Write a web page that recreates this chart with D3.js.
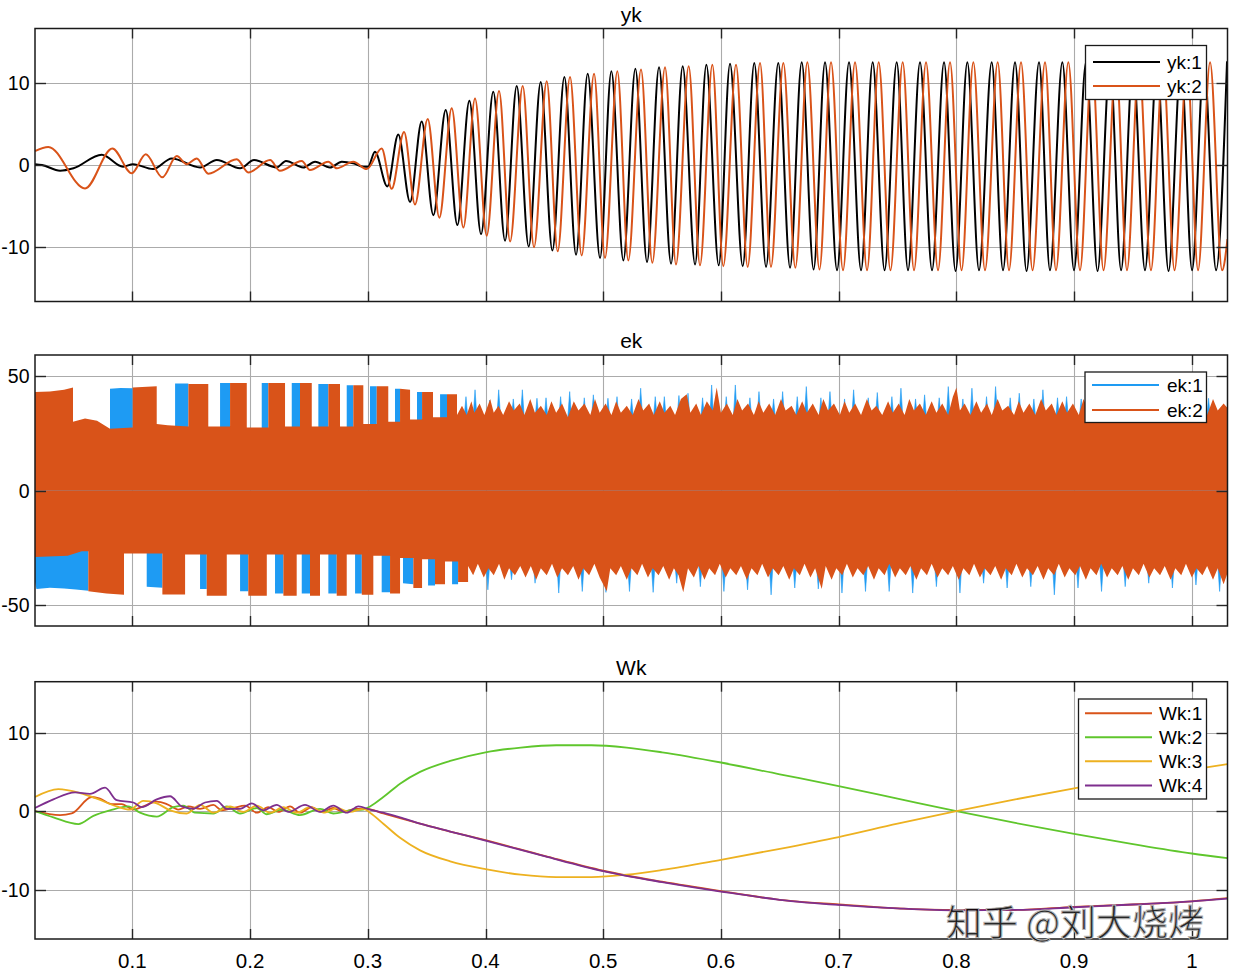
<!DOCTYPE html>
<html><head><meta charset="utf-8">
<script src="https://cdn.jsdelivr.net/npm/d3@7"></script>
<style>
body{margin:0;background:#fff}
text{font-family:"Liberation Sans",Arial,sans-serif;fill:#000}
</style>
</head><body>
<svg id="chart" width="1247" height="975"></svg>
<script>
// ---------------- DATA ----------------
const xDomain = [0.0173, 1.0303];
const xTickValues = [0.1,0.2,0.3,0.4,0.5,0.6,0.7,0.8,0.9,1];
const xTickLabels = ["0.1","0.2","0.3","0.4","0.5","0.6","0.7","0.8","0.9","1"];
const ykTicks = [-10,0,10];
const ekTicks = [-50,0,50];
const wkTicks = [-10,0,10];
const ykTickLabels = ["-10","0","10"];
const ekTickLabels = ["-50","0","50"];
const wkTickLabels = ["-10","0","10"];

// yk: extrema of the two outputs [t, value]
const yk1 = [
[0.0173,0.1],[0.0233,0.0],[0.0386,-0.7],[0.0500,-0.4],[0.0740,1.25],[0.0921,-0.2],[0.1006,0.1],[0.1176,-0.5],[0.1335,0.8],[0.1575,-0.3],[0.1717,0.6],[0.1915,-0.4],[0.2034,0.6],[0.2226,-0.3],[0.2305,0.5],[0.2452,-0.3],[0.2552,0.4],[0.2679,-0.3],[0.2779,0.4],[0.2877,0.2],[0.2962,-0.2],[0.3002,-0.2],
[0.3061,1.6],[0.3166,-2.6],[0.3259,3.7],[0.3359,-4.5],[0.3458,5.3],[0.3557,-6.1],[0.3662,6.7],[0.3761,-7.3],[0.3863,7.8],[0.3962,-8.4],[0.4066,8.9],[0.4166,-9.2],[0.4265,9.6],[0.4367,-9.9],[0.4469,10.1],[0.4568,-10.4],[0.4670,10.7],[0.4769,-10.9],[0.4868,11.1],[0.4973,-11.3],[0.5069,11.4],[0.5171,-11.6],[0.5273,11.7],[0.5372,-11.8],[0.5474,11.9],[0.5576,-12.0],[0.5675,12.0],[0.5780,-12.1],[0.5876,12.2],[0.5981,-12.2],[0.6077,12.3],[0.6185,-12.3],[0.6283,12.4],[0.6383,-12.4],[0.6487,12.4],[0.6587,-12.5],[0.6686,12.5],
[0.6787,-12.7],[0.6884,12.5],[0.6986,-12.8],[0.7088,12.5],[0.7190,-12.8],[0.7289,12.5],[0.7390,-12.8],[0.7493,12.5],[0.7589,-12.8],[0.7691,12.5],[0.7793,-12.8],[0.7895,12.5],[0.7993,-12.9],[0.8093,12.5],[0.8192,-12.8],[0.8300,12.5],[0.8396,-12.8],[0.8498,12.5],[0.8596,-12.9],[0.8702,12.5],[0.8795,-12.8],[0.8900,12.5],[0.8999,-12.8],[0.9101,12.5],[0.9199,-12.9],[0.9305,12.5],[0.9399,-12.8],[0.9500,12.5],[0.9602,-12.8],[0.9704,12.5],[0.9802,-12.9],[0.9908,12.5],[1.0002,-12.8],[1.0103,12.5],[1.0206,-12.8],[1.0299,12.6]
];
const yk2 = [
[0.0173,1.7],[0.0286,2.2],[0.0598,-2.85],[0.0830,2.0],[0.0995,-1.0],[0.1114,1.3],[0.1255,-1.5],[0.1377,1.1],[0.1462,0.1],[0.1547,0.8],[0.1645,-1.05],[0.1887,0.7],[0.1985,-0.9],[0.2170,0.6],[0.2254,-0.7],[0.2439,0.5],[0.2509,-0.6],[0.2665,0.4],[0.2736,-0.4],[0.2877,0.4],[0.2991,-0.5],
[0.3118,2.0],[0.3203,-2.9],[0.3308,4.0],[0.3401,-4.8],[0.3509,5.6],[0.3608,-6.4],[0.3713,6.9],[0.3812,-7.6],[0.3911,8.1],[0.4010,-8.6],[0.4115,9.0],[0.4209,-9.3],[0.4316,9.6],[0.4412,-10.0],[0.4520,10.2],[0.4613,-10.5],[0.4718,10.7],[0.4817,-11.0],[0.4922,11.1],[0.5015,-11.3],[0.5120,11.4],[0.5213,-11.6],[0.5321,11.6],[0.5417,-11.9],[0.5525,11.9],[0.5618,-12.1],[0.5726,12.0],[0.5822,-12.2],[0.5927,12.2],[0.6020,-12.3],[0.6128,12.2],[0.6227,-12.4],[0.6332,12.4],[0.6425,-12.4],[0.6530,12.4],[0.6632,-12.5],[0.6734,12.5],
[0.6837,-12.7],[0.6935,12.5],[0.7037,-12.8],[0.7139,12.5],[0.7241,-12.8],[0.7340,12.5],[0.7440,-12.8],[0.7544,12.5],[0.7640,-12.8],[0.7742,12.5],[0.7844,-12.8],[0.7946,12.5],[0.8044,-12.8],[0.8144,12.5],[0.8243,-12.8],[0.8351,12.5],[0.8447,-12.8],[0.8549,12.5],[0.8647,-12.8],[0.8753,12.5],[0.8846,-12.8],[0.8951,12.5],[0.9050,-12.8],[0.9152,12.5],[0.9250,-12.8],[0.9356,12.5],[0.9449,-12.8],[0.9551,12.5],[0.9653,-12.8],[0.9755,12.5],[0.9853,-12.8],[0.9959,12.5],[1.0053,-12.8],[1.0155,12.5],[1.0257,-12.8],[1.0303,-9.0]
];

// ek: envelopes of the dense oscillation [t, value]
const ek1Top = [
[0.0173,26],[0.0810,26],[0.0810,44.5],[0.0900,44.8],[0.1003,44.7],[0.1003,26],[0.1363,26],[0.1363,46.8],[0.1476,46.8],[0.1476,26],[0.1745,26],[0.1745,47],[0.1830,47],[0.1830,26],[0.2099,26],[0.2099,47],[0.2155,47],[0.2155,26],[0.2354,26],[0.2354,47],[0.2424,47],[0.2424,26],[0.2580,26],[0.2580,46.5],[0.2665,46.5],[0.2665,26],[0.2821,26],[0.2821,46],[0.2877,46],[0.2877,26],[0.3019,26],[0.3019,45.5],[0.3076,45.5],[0.3076,27],[0.3231,27],[0.3231,44.5],[0.3274,44.5],[0.3274,28],[0.3418,28],[0.3418,43],[0.3461,43],[0.3461,29],[0.3614,29],[0.3614,42],[0.3673,42],[0.3673,30],[1.0303,30]
];
const ek1Bot = [
[0.0173,-40],[0.0185,-43],[0.0300,-42.5],[0.0420,-42.8],[0.0520,-43.2],[0.0626,-43.8],[0.0626,-26],[0.1122,-26],[0.1122,-42],[0.1255,-42.5],[0.1255,-26],[0.1575,-26],[0.1575,-43],[0.1632,-43],[0.1632,-26],[0.1915,-26],[0.1915,-44],[0.1985,-44],[0.1985,-26],[0.2212,-26],[0.2212,-45],[0.2283,-45],[0.2283,-26],[0.2439,-26],[0.2439,-45],[0.2509,-45],[0.2509,-26],[0.2665,-26],[0.2665,-45],[0.2736,-45],[0.2736,-26],[0.2892,-26],[0.2892,-45],[0.2949,-45],[0.2949,-26],[0.3118,-26],[0.3118,-44.5],[0.3189,-44.5],[0.3189,-27],[0.3299,-27],[0.3299,-40.5],[0.3387,-41],[0.3387,-28],[0.3512,-28],[0.3512,-41.5],[0.3571,-41.5],[0.3571,-29],[0.3716,-29],[0.3716,-41],[0.3767,-41],[0.3767,-30],[1.0303,-30]
];
const ek1TopPeaks = [
[0.3834,41.0],[0.3911,44.0],[0.4035,39.5],[0.4112,44.0],[0.4236,40.0],[0.4313,44.0],[0.4437,40.3],[0.4514,40.5],[0.4638,41.0],[0.4715,43.2],[0.4839,40.5],[0.4916,41.8],[0.5040,40.3],[0.5117,41.0],[0.5241,40.0],[0.5318,44.7],[0.5442,41.0],[0.5519,41.0],[0.5643,41.5],[0.5720,42.5],[0.5844,40.5],[0.5921,46.1],[0.6045,41.0],[0.6122,46.1],[0.6246,40.5],[0.6323,43.2],[0.6447,40.0],[0.6524,43.2],[0.6648,41.0],[0.6725,45.4],[0.6849,40.5],[0.6926,43.2],[0.7050,40.0],[0.7127,44.0],[0.7251,40.5],[0.7328,42.8],[0.7452,41.0],[0.7529,44.7],[0.7653,40.0],[0.7730,41.8],[0.7854,40.5],[0.7931,45.4],[0.8055,40.0],[0.8132,44.7],[0.8256,41.0],[0.8333,45.4],[0.8457,40.5],[0.8534,42.5],[0.8658,40.0],[0.8735,44.0],[0.8859,40.5],[0.8936,41.0],[0.9060,40.0],[0.9137,42.5],[0.9261,41.0],[0.9338,43.5],[0.9462,40.0],[0.9539,42.0],[0.9663,40.5],[0.9740,44.0],[0.9864,40.0],[0.9941,43.0],[1.0065,40.5],[1.0142,40.3]
];
const ek1BotPeaks = [
[0.4020,-43.4],[0.4221,-39.0],[0.4421,-40.5],[0.4622,-44.8],[0.4822,-44.1],[0.5023,-44.5],[0.5223,-44.1],[0.5424,-44.5],[0.5624,-40.5],[0.5825,-42.0],[0.6025,-44.1],[0.6226,-43.4],[0.6426,-45.6],[0.6627,-42.6],[0.6827,-43.0],[0.7028,-44.8],[0.7228,-44.1],[0.7429,-44.1],[0.7629,-44.8],[0.7830,-42.0],[0.8030,-44.8],[0.8231,-40.5],[0.8431,-42.6],[0.8632,-42.0],[0.8832,-45.6],[0.9033,-42.6],[0.9233,-44.1],[0.9434,-42.0],[0.9634,-40.5],[0.9835,-42.6],[1.0035,-41.3],[1.0236,-44.1]
];
const ek2Top = [
[0.0173,43.0],[0.0300,43.3],[0.0420,44.0],[0.0496,45.0],[0.0496,30.0],[0.0598,31.5],[0.0700,30.5],[0.0810,27.0],[0.1003,27.5],
[0.1003,45.0],[0.1207,45.5],[0.1207,29.0],[0.1300,28.5],[0.1476,28.0],
[0.1476,46.5],[0.1645,46.5],[0.1645,28.0],[0.1830,28.0],
[0.1830,47.0],[0.1972,47.0],[0.1972,27.5],[0.2155,27.5],
[0.2155,47.0],[0.2297,47.0],[0.2297,28.0],[0.2424,28.0],
[0.2424,47.0],[0.2524,47.0],[0.2524,28.0],[0.2665,28.0],
[0.2665,46.5],[0.2764,46.5],[0.2764,28.0],[0.2877,28.0],
[0.2877,46.0],[0.2962,46.0],[0.2962,29.0],[0.3076,29.0],
[0.3076,45.5],[0.3174,45.5],[0.3174,30.0],[0.3274,30.0],
[0.3274,44.5],[0.3359,44.0],[0.3359,31.0],[0.3461,31.0],
[0.3461,43.0],[0.3554,43.0],[0.3554,32.0],[0.3673,32.0],
[0.3673,42.0],[0.3758,42.0],
[0.3758,33],[0.3800,37],[0.3840,33],[0.3880,39],[0.3905,34],[0.3950,38],[0.3990,33],[0.4040,40],[0.4070,34],[0.4110,37],[0.4150,33],[0.4200,39],[0.4240,35],[0.4290,38],[0.4330,33],[0.4380,40],[0.4420,34],[0.4470,37],[0.4520,33],[0.4560,39],[0.4600,34],[0.4650,38],[0.4700,32],[0.4750,39],[0.4790,35],[0.4840,38],[0.4890,33],[0.4930,40],[0.4970,34],[0.5020,38],[0.5070,33],[0.5110,39],[0.5150,34],[0.5200,37],[0.5250,33],[0.5300,40],[0.5340,35],[0.5390,38],[0.5430,33],[0.5480,39],[0.5520,34],[0.5570,37],[0.5610,33],[0.5660,40],[0.5709,42],[0.5740,34],[0.5790,38],[0.5830,33],[0.5880,39],[0.5930,35],[0.5964,45],[0.6000,34],[0.6050,38],[0.6100,33],[0.6140,40],[0.6180,35],[0.6230,38],[0.6280,33],[0.6320,39],[0.6360,34],[0.6410,38],[0.6460,33],[0.6510,40],[0.6550,35],[0.6600,37],[0.6640,33],[0.6690,39],[0.6730,34],[0.6780,38],[0.6830,33],[0.6870,40],[0.6910,35],[0.6960,38],[0.7010,33],[0.7050,39],[0.7090,34],[0.7140,38],[0.7190,33],[0.7240,40],[0.7280,35],[0.7320,37],[0.7370,33],[0.7420,39],[0.7460,34],[0.7510,38],[0.7560,33],[0.7600,40],[0.7640,35],[0.7690,38],[0.7740,33],[0.7790,39],[0.7830,34],[0.7880,38],[0.7930,33],[0.7970,41],[0.8000,45],[0.8030,35],[0.8070,38],[0.8120,33],[0.8170,39],[0.8210,34],[0.8260,38],[0.8300,33],[0.8350,40],[0.8390,35],[0.8440,37],[0.8490,33],[0.8530,39],[0.8570,34],[0.8620,38],[0.8670,33],[0.8720,40],[0.8760,35],[0.8810,38],[0.8850,33],[0.8900,39],[0.8940,34],[0.8990,38],[0.9040,33],[0.9080,40],[0.9120,35],[0.9170,37],[0.9220,33],[0.9270,39],[0.9310,34],[0.9360,38],[0.9400,33],[0.9450,40],[0.9490,35],[0.9540,38],[0.9590,33],[0.9630,39],[0.9670,34],[0.9720,38],[0.9770,33],[0.9810,40],[0.9850,35],[0.9900,37],[0.9950,33],[1.0000,39],[1.0040,34],[1.0090,38],[1.0130,33],[1.0180,40],[1.0220,35],[1.0270,38],[1.0303,36]
];
const ek2Bot = [
[0.0173,-29.0],[0.0450,-28.5],[0.0570,-26.5],[0.0626,-26.5],[0.0626,-44.0],[0.0780,-45.0],[0.0929,-45.5],[0.0929,-27.5],[0.1255,-27.5],[0.1255,-45.4],[0.1448,-45.4],[0.1448,-28.0],[0.1632,-28.0],[0.1632,-46.0],[0.1802,-46.0],[0.1802,-28.0],[0.1985,-28.0],[0.1985,-46.0],[0.2142,-46.0],[0.2142,-28.0],[0.2283,-28.0],[0.2283,-46.0],[0.2396,-46.0],[0.2396,-28.0],[0.2509,-28.0],[0.2509,-46.0],[0.2594,-46.0],[0.2594,-28.0],[0.2736,-28.0],[0.2736,-46.0],[0.2821,-46.0],[0.2821,-28.0],[0.2949,-28.0],[0.2949,-45.5],[0.3047,-45.5],[0.3047,-28.5],[0.3189,-28.5],[0.3189,-45.0],[0.3274,-45.0],[0.3274,-29.5],[0.3387,-29.5],[0.3387,-42.6],[0.3461,-42.6],[0.3461,-30.0],[0.3571,-30.0],[0.3571,-41.0],[0.3656,-41.0],[0.3656,-31.0],[0.3767,-31.0],[0.3767,-40.0],[0.3852,-40.0],
[0.3852,-33],[0.3895,-37],[0.3935,-32],[0.3985,-38],[0.4025,-34],[0.4070,-37],[0.4115,-32],[0.4160,-39],[0.4200,-34],[0.4250,-37],[0.4295,-33],[0.4340,-38],[0.4385,-33],[0.4430,-39],[0.4470,-34],[0.4520,-37],[0.4565,-32],[0.4610,-38],[0.4650,-34],[0.4700,-37],[0.4745,-33],[0.4790,-39],[0.4830,-34],[0.4880,-37],[0.4925,-32],[0.4970,-38],[0.5030,-44],[0.5060,-34],[0.5110,-37],[0.5150,-33],[0.5200,-39],[0.5240,-34],[0.5290,-37],[0.5330,-32],[0.5380,-38],[0.5420,-34],[0.5470,-37],[0.5510,-33],[0.5560,-39],[0.5600,-34],[0.5640,-37],[0.5680,-44.5],[0.5720,-34],[0.5770,-38],[0.5810,-33],[0.5860,-39],[0.5900,-34],[0.5950,-37],[0.5990,-32],[0.6040,-38],[0.6080,-34],[0.6130,-37],[0.6170,-33],[0.6220,-39],[0.6260,-34],[0.6310,-37],[0.6350,-32],[0.6400,-38],[0.6440,-34],[0.6490,-37],[0.6530,-33],[0.6580,-39],[0.6620,-34],[0.6670,-37],[0.6710,-32],[0.6760,-38],[0.6800,-34],[0.6856,-43],[0.6890,-33],[0.6940,-39],[0.6980,-34],[0.7030,-37],[0.7070,-32],[0.7120,-38],[0.7160,-34],[0.7210,-37],[0.7250,-33],[0.7300,-39],[0.7340,-34],[0.7390,-37],[0.7430,-32],[0.7480,-38],[0.7520,-34],[0.7570,-37],[0.7610,-33],[0.7660,-39],[0.7700,-34],[0.7750,-37],[0.7790,-32],[0.7840,-38],[0.7880,-34],[0.7930,-37],[0.7970,-33],[0.8020,-39],[0.8060,-34],[0.8110,-37],[0.8150,-32],[0.8200,-38],[0.8240,-34],[0.8290,-37],[0.8330,-33],[0.8380,-39],[0.8420,-34],[0.8470,-37],[0.8510,-32],[0.8560,-38],[0.8600,-34],[0.8650,-37],[0.8690,-33],[0.8740,-39],[0.8780,-34],[0.8830,-37],[0.8870,-32],[0.8920,-38],[0.8960,-34],[0.9010,-37],[0.9050,-33],[0.9100,-39],[0.9140,-34],[0.9190,-37],[0.9230,-32],[0.9280,-38],[0.9320,-34],[0.9370,-37],[0.9410,-33],[0.9460,-39],[0.9500,-34],[0.9550,-37],[0.9590,-32],[0.9640,-38],[0.9680,-34],[0.9730,-37],[0.9770,-33],[0.9820,-39],[0.9860,-34],[0.9910,-37],[0.9950,-32],[1.0000,-38],[1.0040,-34],[1.0090,-37],[1.0130,-33],[1.0180,-39],[1.0220,-34],[1.0270,-41],[1.0303,-36]
];

// Wk: four weights [t, value]
const wk1 = [
[0.0173,0.0],[0.0386,-0.5],[0.0485,-0.3],[0.0655,1.8],[0.0725,1.6],[0.0825,0.9],[0.0910,0.9],[0.1008,0.2],[0.1093,0.6],[0.1207,1.2],[0.1292,0.9],[0.1391,0.2],[0.1476,0.6],[0.1575,0.3],[0.1688,0.8],[0.1759,0.1],[0.1858,0.4],[0.1957,0.7],[0.2057,-0.2],[0.2155,0.5],[0.2240,-0.1],[0.2339,0.6],[0.2424,-0.2],[0.2524,0.5],[0.2609,-0.1],[0.2707,0.4],[0.2792,-0.1],[0.2892,0.3],[0.2991,0.3],[0.3132,-0.3],[0.3274,-0.9],[0.3444,-1.6],[0.37,-2.6],[0.40,-3.7],[0.45,-5.7],[0.50,-7.6],[0.55,-9.0],[0.60,-10.2],[0.65,-11.3],[0.70,-11.9],[0.75,-12.4],[0.80,-12.6],[0.85,-12.6],[0.90,-12.2],[0.95,-11.9],[1.00,-11.5],[1.0303,-11.1]
];
const wk2 = [
[0.0173,0.0],[0.0329,-0.8],[0.0541,-1.65],[0.0669,-0.6],[0.0810,0.1],[0.0966,0.6],[0.1065,-0.2],[0.1207,-0.7],[0.1348,0.5],[0.1433,0.7],[0.1532,-0.2],[0.1688,-0.3],[0.1802,0.6],[0.1915,-0.3],[0.2057,0.4],[0.2142,-0.4],[0.2269,0.2],[0.2424,-0.5],[0.2594,0.3],[0.2707,-0.3],[0.2849,0.1],[0.2962,0.2],[0.3019,0.6],[0.3132,1.8],[0.3274,3.5],[0.3444,5.0],[0.37,6.4],[0.40,7.5],[0.43,8.1],[0.46,8.4],[0.49,8.4],[0.52,8.1],[0.55,7.5],[0.60,6.2],[0.65,4.7],[0.70,3.2],[0.75,1.6],[0.80,0.0],[0.85,-1.5],[0.90,-2.9],[0.95,-4.2],[1.00,-5.4],[1.0303,-6.0]
];
const wk3 = [
[0.0173,1.8],[0.0371,2.8],[0.0556,2.3],[0.0697,1.6],[0.0867,0.6],[0.0980,0.2],[0.1093,1.3],[0.1207,1.0],[0.1320,0.1],[0.1462,-0.3],[0.1575,0.8],[0.1688,-0.2],[0.1830,0.6],[0.1943,-0.1],[0.2057,0.7],[0.2170,-0.2],[0.2283,0.5],[0.2396,-0.2],[0.2509,0.5],[0.2637,-0.2],[0.2736,0.4],[0.2849,-0.1],[0.2962,0.3],[0.3019,-0.2],[0.3132,-1.6],[0.3274,-3.4],[0.3444,-5.0],[0.37,-6.4],[0.40,-7.4],[0.43,-8.1],[0.46,-8.4],[0.49,-8.4],[0.52,-8.1],[0.55,-7.5],[0.60,-6.2],[0.65,-4.8],[0.70,-3.3],[0.75,-1.6],[0.80,0.0],[0.85,1.5],[0.90,2.9],[0.95,4.2],[1.00,5.3],[1.0303,6.0]
];
const wk4 = [
[0.0173,0.4],[0.0329,1.5],[0.0513,2.4],[0.0640,2.2],[0.0768,3.0],[0.0867,1.4],[0.1008,1.1],[0.1080,0.5],[0.1207,1.5],[0.1320,1.9],[0.1420,0.6],[0.1518,0.3],[0.1617,1.1],[0.1717,1.3],[0.1802,0.3],[0.1915,0.3],[0.2014,1.0],[0.2113,0.1],[0.2226,0.8],[0.2325,-0.1],[0.2467,0.8],[0.2594,-0.1],[0.2707,0.7],[0.2821,-0.2],[0.2920,0.6],[0.3019,0.2],[0.3132,-0.2],[0.3274,-0.8],[0.3444,-1.6],[0.37,-2.6],[0.40,-3.75],[0.45,-5.75],[0.50,-7.65],[0.55,-9.05],[0.60,-10.25],[0.65,-11.3],[0.70,-11.95],[0.75,-12.4],[0.80,-12.65],[0.85,-12.6],[0.90,-12.25],[0.95,-11.9],[1.00,-11.5],[1.0303,-11.15]
];

const ykSeries = [{name:"yk:1", data:yk1, color:"#000000"},{name:"yk:2", data:yk2, color:"#D95319"}];
const ekSeries = [{name:"ek:1", color:"#1E9BF3"},{name:"ek:2", color:"#D95319"}];
const wkSeries = [{name:"Wk:1", data:wk1, color:"#D95319"},{name:"Wk:2", data:wk2, color:"#5FC62C"},{name:"Wk:3", data:wk3, color:"#EDB120"},{name:"Wk:4", data:wk4, color:"#7E2F8E"}];

// ---------------- LAYOUT ----------------
const L = 35, R = 1227.5;
const svg = d3.select("#chart");
const x = d3.scaleLinear().domain(xDomain).range([L, R]);

const panels = [
  {title:"yk", top:28.5, bottom:301.5, domain:[-16.6,16.6], ticks:ykTicks, labels:ykTickLabels},
  {title:"ek", top:355, bottom:626, domain:[-59.2,59.2], ticks:ekTicks, labels:ekTickLabels},
  {title:"Wk", top:681.7, bottom:939, domain:[-16.3,16.5], ticks:wkTicks, labels:wkTickLabels}
];

const defs = svg.append("defs");
panels.forEach((p,i)=>{
  p.y = d3.scaleLinear().domain(p.domain).range([p.bottom, p.top]);
  defs.append("clipPath").attr("id","clip"+i).append("rect")
    .attr("x",L).attr("y",p.top).attr("width",R-L).attr("height",p.bottom-p.top);
  const g = svg.append("g");
  p.g = g;
  const grid = g.append("g").attr("stroke","#ababab").attr("stroke-width",1.1);
  grid.selectAll("line.v").data(xTickValues).join("line").attr("class","v")
    .attr("x1",d=>Math.round(x(d))+0.5).attr("x2",d=>Math.round(x(d))+0.5)
    .attr("y1",p.top).attr("y2",p.bottom);
  grid.selectAll("line.h").data(p.ticks).join("line").attr("class","h")
    .attr("x1",L).attr("x2",R)
    .attr("y1",d=>Math.round(p.y(d))+0.5).attr("y2",d=>Math.round(p.y(d))+0.5);
  p.plot = g.append("g").attr("clip-path",`url(#clip${i})`);
});

// ---- yk ----
{
  const p = panels[0];
  const line = d3.line().x(d=>x(d[0])).y(d=>p.y(d[1])).curve(d3.curveMonotoneX);
  p.plot.selectAll("path.s").data(ykSeries).join("path").attr("class","s")
    .attr("d",d=>line(d.data)).attr("fill","none").attr("stroke",d=>d.color)
    .attr("stroke-width",2).attr("stroke-linejoin","round");
}
// ---- ek ----
{
  const p = panels[1];
  const y = p.y;
  const aTop = d3.area().x(d=>x(d[0])).y0(y(0)).y1(d=>y(d[1]));
  const spikeW = 2.2;
  const spike = (d, base) => {
    const cx = x(d[0]);
    return `M${cx-spikeW},${y(base)}L${cx},${y(d[1])}L${cx+spikeW},${y(base)}Z`;
  };
  const blue = ekSeries[0].color, orange = ekSeries[1].color;
  p.plot.append("path").attr("d",aTop(ek1Top)).attr("fill",blue);
  p.plot.append("path").attr("d",aTop(ek1Bot)).attr("fill",blue);
  p.plot.selectAll("path.st").data(ek1TopPeaks).join("path").attr("class","st")
    .attr("d",d=>spike(d,30)).attr("fill",blue).attr("stroke",blue).attr("stroke-width",0.6);
  p.plot.selectAll("path.sb").data(ek1BotPeaks).join("path").attr("class","sb")
    .attr("d",d=>spike(d,-30)).attr("fill",blue).attr("stroke",blue).attr("stroke-width",0.6);
  p.plot.append("path").attr("d",aTop(ek2Top)).attr("fill",orange);
  p.plot.append("path").attr("d",aTop(ek2Bot)).attr("fill",orange);
}
// ---- Wk ----
{
  const p = panels[2];
  const line = d3.line().x(d=>x(d[0])).y(d=>p.y(d[1])).curve(d3.curveMonotoneX);
  p.plot.selectAll("path.s").data(wkSeries).join("path").attr("class","s")
    .attr("d",d=>line(d.data)).attr("fill","none").attr("stroke",d=>d.color)
    .attr("stroke-width",1.8).attr("stroke-linejoin","round");
}

// ---- box, ticks, labels, titles ----
panels.forEach((p,i)=>{
  const g = p.g;
  const tk = g.append("g").attr("stroke","#262626").attr("stroke-width",1.4);
  xTickValues.forEach(v=>{
    const xx = Math.round(x(v))+0.5;
    tk.append("line").attr("x1",xx).attr("x2",xx).attr("y1",p.top).attr("y2",p.top+10);
    tk.append("line").attr("x1",xx).attr("x2",xx).attr("y1",p.bottom-10).attr("y2",p.bottom);
  });
  p.ticks.forEach(v=>{
    const yy = Math.round(p.y(v))+0.5;
    tk.append("line").attr("x1",L).attr("x2",L+11).attr("y1",yy).attr("y2",yy);
    tk.append("line").attr("x1",R-11).attr("x2",R).attr("y1",yy).attr("y2",yy);
  });
  g.append("rect").attr("x",L).attr("y",p.top).attr("width",R-L).attr("height",p.bottom-p.top)
    .attr("fill","none").attr("stroke","#1a1a1a").attr("stroke-width",1.5);
  g.selectAll("text.yl").data(p.ticks).join("text").attr("class","yl")
    .attr("x",29.5).attr("y",d=>p.y(d)).attr("dy","0.36em").attr("text-anchor","end")
    .attr("font-size",19.5).text((d,j)=>p.labels[j]);
  g.append("text").attr("x",(L+R)/2).attr("y",p.top-7).attr("text-anchor","middle")
    .attr("font-size",21).text(p.title);
});
// x tick labels on bottom panel
{
  const p = panels[2];
  p.g.selectAll("text.xl").data(xTickValues).join("text").attr("class","xl")
    .attr("x",d=>x(d)).attr("y",968).attr("text-anchor","middle").attr("font-size",20.5)
    .text((d,j)=>xTickLabels[j]);
}

// ---- legends ----
function legend(box, rows, lx0, lx1, tx, items){
  const g = svg.append("g");
  g.append("rect").attr("x",box[0]).attr("y",box[1]).attr("width",box[2]).attr("height",box[3])
    .attr("fill","#fff").attr("stroke","#1a1a1a").attr("stroke-width",1.3);
  items.forEach((it,j)=>{
    g.append("line").attr("x1",lx0).attr("x2",lx1).attr("y1",rows[j]).attr("y2",rows[j])
      .attr("stroke",it.color).attr("stroke-width",2);
    g.append("text").attr("x",tx).attr("y",rows[j]).attr("dy","0.36em").attr("font-size",19).text(it.name);
  });
}
legend([1085.5,45.5,121,54],[62,86],1093,1160,1167,ykSeries);
legend([1085,372,121.5,50.5],[385,410],1092,1159,1167,ekSeries);
legend([1078.5,699,128,100],[713.3,737.3,761.3,785.5],1085,1152,1159,wkSeries);

// ---- watermark ----
svg.append("text").attr("x",946).attr("y",936)
  .style("font-family","'Noto Sans CJK SC',sans-serif").attr("font-size",36)
  .attr("fill","#f0f0f0").attr("fill-opacity",0.85).attr("stroke","#b5b5b5").attr("stroke-width",1)
  .text("知乎 @刘大烧烤");
</script>
</body></html>
